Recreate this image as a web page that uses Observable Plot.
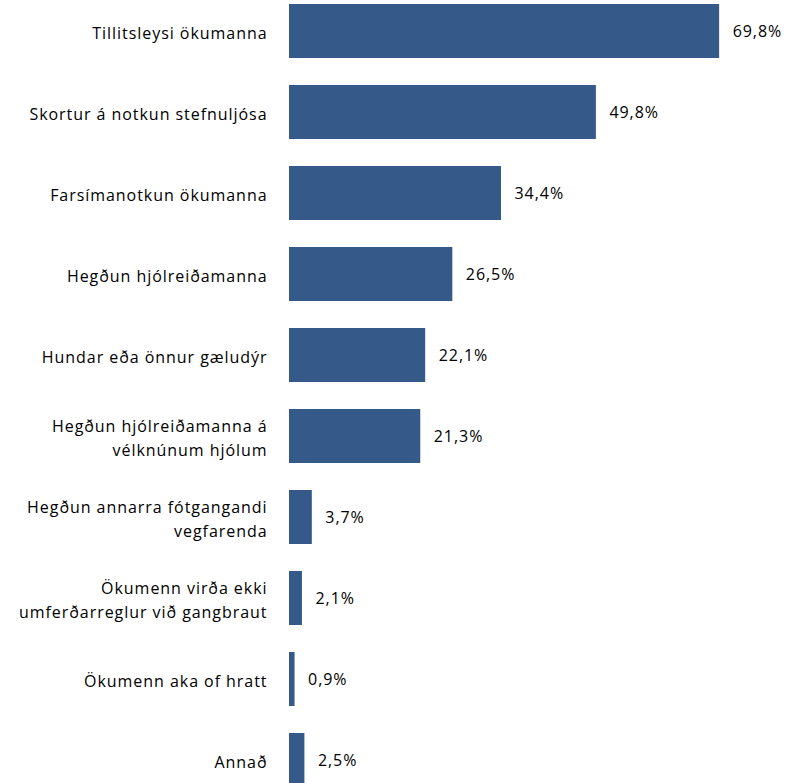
<!DOCTYPE html>
<html>
<head>
<meta charset="utf-8">
<script src="https://cdn.jsdelivr.net/npm/d3@7"></script>
<script src="https://cdn.jsdelivr.net/npm/@observablehq/plot@0.6"></script>
<style>
  html, body { margin: 0; padding: 0; background: #fff; }
  #chart svg { display: block; font-family: "Open Sans", sans-serif; letter-spacing: 0.95px; }
</style>
</head>
<body>
<div id="chart"></div>
<script>
const categories = [
  "Tillitsleysi ökumanna",
  "Skortur á notkun stefnuljósa",
  "Farsímanotkun ökumanna",
  "Hegðun hjólreiðamanna",
  "Hundar eða önnur gæludýr",
  "Hegðun hjólreiðamanna á\nvélknúnum hjólum",
  "Hegðun annarra fótgangandi\nvegfarenda",
  "Ökumenn virða ekki\numferðarreglur við gangbraut",
  "Ökumenn aka of hratt",
  "Annað"
];
const values = [69.8, 49.8, 34.4, 26.5, 22.1, 21.3, 3.7, 2.1, 0.9, 2.5];

const data = categories.map((c, i) => ({category: c, value: values[i]}));
const fmt = v => v.toFixed(1).replace(".", ",") + "%";

const chart = Plot.plot({
  width: 798,
  height: 783,
  marginLeft: 289,
  marginRight: 16,
  marginTop: 4,
  marginBottom: 0,
  style: {fontFamily: "'Open Sans', sans-serif", fontSize: "16px", color: "#000", letterSpacing: "0.95px"},
  x: {domain: [0, 80], axis: null},
  y: {domain: categories, range: [4, 787], paddingInner: 1/3, paddingOuter: 0, label: null},
  marks: [
    Plot.barX(data, {x: "value", y: "category", fill: "#355a89"}),
    Plot.text(data, {x: "value", y: "category", text: d => fmt(d.value), textAnchor: "start", dx: 13, fontSize: 16, fill: "#000"}),
    Plot.axisY({tickSize: 0, tickPadding: 22, fontSize: 16, lineHeight: 1.5, fill: "#000", label: null})
  ]
});
document.getElementById("chart").appendChild(chart);
</script>
</body>
</html>
